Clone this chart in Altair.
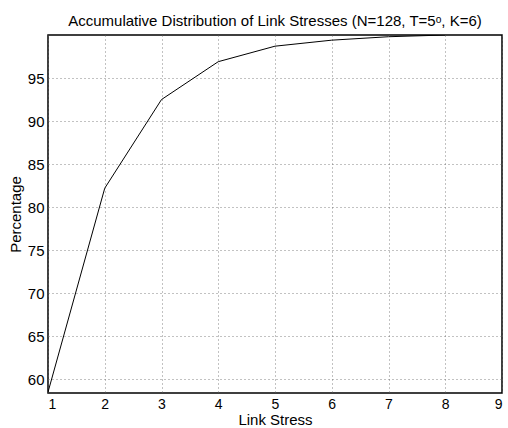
import altair as alt
import pandas as pd

stress = [1, 2, 3, 4, 5, 6, 7, 8]
percent = [58.5, 82.2, 92.5, 96.9, 98.7, 99.4, 99.8, 100.0]
x_ticks = [1, 2, 3, 4, 5, 6, 7, 8, 9]
y_ticks = [60, 65, 70, 75, 80, 85, 90, 95]

df = pd.DataFrame({"stress": stress, "percent": percent})

font = "Liberation Sans"
fs = 15

chart = alt.Chart(df).mark_line(color="black", strokeWidth=1, clip=True).encode(
    x=alt.X("stress:Q",
            scale=alt.Scale(domain=[1, 9], nice=False, zero=False),
            axis=alt.Axis(values=x_ticks, title="Link Stress", format="d",
                          tickSize=0, labelPadding=4, titlePadding=1,
                          labelFontSize=14, titleFontSize=fs, titleFontWeight="normal",
                          labelFont=font, titleFont=font, labelColor="black", titleColor="black",
                          grid=True, gridColor="#666", gridDash=[1, 3], gridOpacity=0.8,
                          domain=False)),
    y=alt.Y("percent:Q",
            scale=alt.Scale(domain=[58.4, 100], nice=False, zero=False),
            axis=alt.Axis(values=y_ticks, title="Percentage", format="d",
                          tickSize=0, labelPadding=4, titlePadding=4,
                          labelFontSize=fs, titleFontSize=fs, titleFontWeight="normal",
                          labelFont=font, titleFont=font, labelColor="black", titleColor="black",
                          grid=True, gridColor="#666", gridDash=[1, 3], gridOpacity=0.8,
                          domain=False)),
).properties(
    width=454, height=358,
    background="white",
    title=alt.TitleParams("Accumulative Distribution of Link Stresses (N=128, T=5ᵒ, K=6)",
                          font=font, fontSize=fs, fontWeight="normal", color="black", offset=6),
    autosize=alt.AutoSizeParams(type="none"),
    padding={"left": 48, "top": 35, "right": 6, "bottom": 35},
).configure_view(stroke="black", strokeWidth=1.5)

chart.save("out.html", embed_options={"renderer": "svg", "actions": False})
